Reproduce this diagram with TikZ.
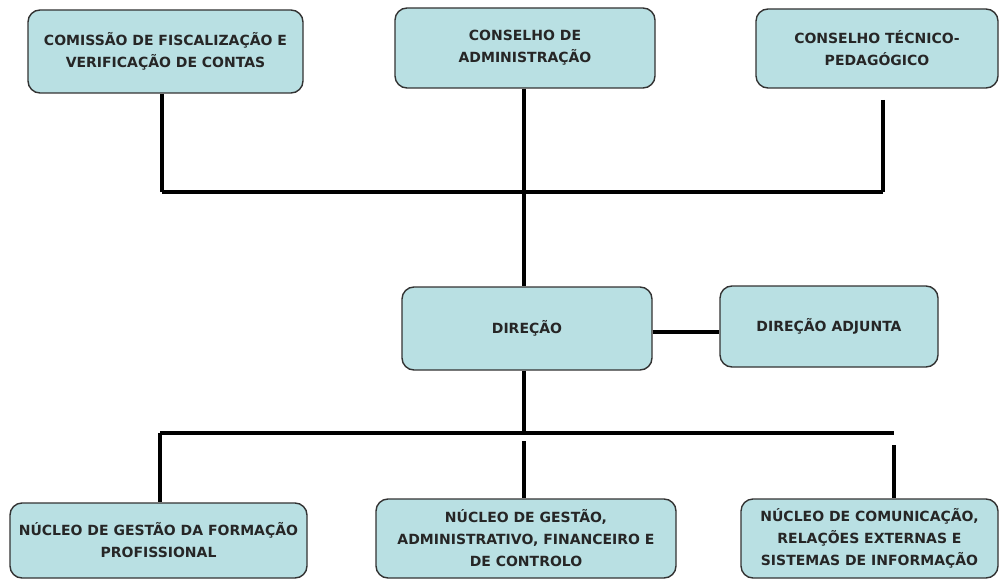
\documentclass[tikz,border=0pt]{standalone}
\usepackage{fontspec}
\setmainfont{DejaVu Sans}
\begin{document}
\begin{tikzpicture}[x=1pt,y=-1pt,
  orgbox/.style={draw=boxline, fill=boxfill, line width=1.4pt, rounded corners=12pt,
    inner sep=0pt, align=center, text=black!85,
    font=\fontsize{14}{22}\selectfont\bfseries},
  conn/.style={line width=3.8pt, draw=black}]
\definecolor{boxfill}{HTML}{B9E0E3}
\definecolor{boxline}{HTML}{333333}
\useasboundingbox (0,0) rectangle (1000,580);
% boxes
\node[orgbox, minimum width=275pt, minimum height=83pt] (b1) at (165.5,51.5) {COMISSÃO DE FISCALIZAÇÃO E\\VERIFICAÇÃO DE CONTAS};
\node[orgbox, minimum width=260pt, minimum height=80pt] (b2) at (525,48) {CONSELHO DE\\ADMINISTRAÇÃO};
\node[orgbox, minimum width=242pt, minimum height=79pt] (b3) at (877,48.5) {CONSELHO TÉCNICO-\\PEDAGÓGICO};
\node[orgbox, minimum width=250pt, minimum height=83pt] (d) at (527,328.5) {DIREÇÃO};
\node[orgbox, minimum width=218pt, minimum height=81pt] (da) at (829,326.5) {DIREÇÃO ADJUNTA};
\node[orgbox, minimum width=297pt, minimum height=75pt] (b4) at (158.5,540.5) {NÚCLEO DE GESTÃO DA FORMAÇÃO\\PROFISSIONAL};
\node[orgbox, minimum width=300pt, minimum height=79pt] (b5) at (526,538.5) {NÚCLEO DE GESTÃO,\\ADMINISTRATIVO, FINANCEIRO E\\DE CONTROLO};
\node[orgbox, minimum width=257pt, minimum height=79pt] (b6) at (869.5,538.5) {NÚCLEO DE COMUNICAÇÃO,\\RELAÇÕES EXTERNAS E\\SISTEMAS DE INFORMAÇÃO};
% junction coordinates
\coordinate (tl) at (162,192);
\coordinate (tm) at (524,192);
\coordinate (tr) at (883,192);
\coordinate (trs) at (883,100);
\coordinate (bl) at (160,433);
\coordinate (bm) at (524,433);
\coordinate (br) at (894,433);
\coordinate (bms) at (524,441);
\coordinate (brs) at (894,445);
\coordinate (dl) at (0,332);
% top connectors
\draw[conn] (b1.south -| tl) -- (tl);
\draw[conn] (trs) -- (tr);
\draw[conn] (tl) -- (tr);
\draw[conn] (b2.south -| tm) -- (d.north -| tm);
% direção adjunta
\draw[conn] (d.east |- dl) -- (da.west |- dl);
% bottom connectors
\draw[conn] (d.south -| bm) -- (bm);
\draw[conn] (bl) -- (br);
\draw[conn] (bl) -- (b4.north -| bl);
\draw[conn] (bms) -- (b5.north -| bms);
\draw[conn] (brs) -- (b6.north -| brs);
\end{tikzpicture}
\end{document}
